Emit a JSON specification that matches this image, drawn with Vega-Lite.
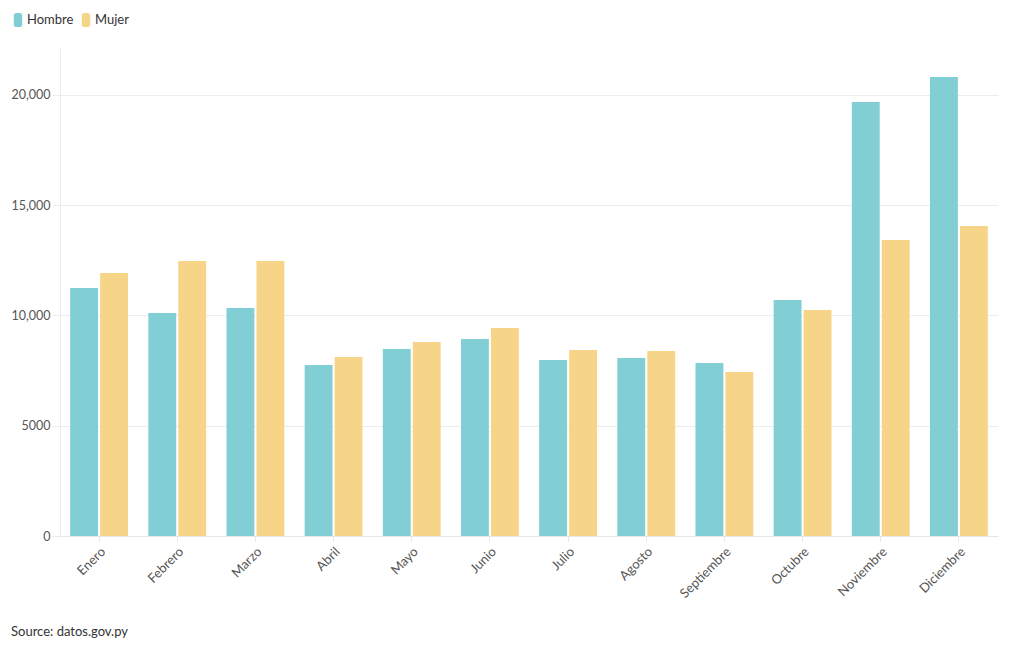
{
  "$schema": "https://vega.github.io/schema/vega-lite/v6.json",
  "width": 938,
  "height": 488,
  "autosize": {"type": "none"},
  "padding": {"left": 60, "top": 48, "right": 22, "bottom": 114},
  "background": "white",
  "config": {
    "font": "Lato",
    "view": {"stroke": null}
  },
  "title": {
    "text": "Source: datos.gov.py",
    "orient": "bottom",
    "anchor": "start",
    "frame": "group",
    "dx": -49,
    "offset": 26,
    "fontSize": 13,
    "fontWeight": "normal",
    "color": "#333"
  },
  "data": {
    "values": [
      {"mes": "Enero", "sexo": "Hombre", "valor": 11250},
      {"mes": "Enero", "sexo": "Mujer", "valor": 11930},
      {"mes": "Febrero", "sexo": "Hombre", "valor": 10110},
      {"mes": "Febrero", "sexo": "Mujer", "valor": 12470},
      {"mes": "Marzo", "sexo": "Hombre", "valor": 10340},
      {"mes": "Marzo", "sexo": "Mujer", "valor": 12470},
      {"mes": "Abril", "sexo": "Hombre", "valor": 7760},
      {"mes": "Abril", "sexo": "Mujer", "valor": 8120},
      {"mes": "Mayo", "sexo": "Hombre", "valor": 8480},
      {"mes": "Mayo", "sexo": "Mujer", "valor": 8800},
      {"mes": "Junio", "sexo": "Hombre", "valor": 8930},
      {"mes": "Junio", "sexo": "Mujer", "valor": 9430},
      {"mes": "Julio", "sexo": "Hombre", "valor": 7980},
      {"mes": "Julio", "sexo": "Mujer", "valor": 8440},
      {"mes": "Agosto", "sexo": "Hombre", "valor": 8070},
      {"mes": "Agosto", "sexo": "Mujer", "valor": 8390},
      {"mes": "Septiembre", "sexo": "Hombre", "valor": 7850},
      {"mes": "Septiembre", "sexo": "Mujer", "valor": 7440},
      {"mes": "Octubre", "sexo": "Hombre", "valor": 10700},
      {"mes": "Octubre", "sexo": "Mujer", "valor": 10250},
      {"mes": "Noviembre", "sexo": "Hombre", "valor": 19680},
      {"mes": "Noviembre", "sexo": "Mujer", "valor": 13420},
      {"mes": "Diciembre", "sexo": "Hombre", "valor": 20820},
      {"mes": "Diciembre", "sexo": "Mujer", "valor": 14060}
    ]
  },
  "mark": {"type": "bar"},
  "encoding": {
    "x": {
      "field": "mes",
      "type": "nominal",
      "sort": null,
      "scale": {"paddingInner": 0.26, "paddingOuter": 0.13},
      "axis": {
        "title": null,
        "labelAngle": -45,
        "labelFontSize": 13,
        "labelColor": "#555",
        "domainColor": "#e6e6e6",
        "tickColor": "#e6e6e6",
        "tickSize": 5,
        "labelPadding": 4
      }
    },
    "xOffset": {
      "field": "sexo",
      "type": "nominal",
      "scale": {"paddingInner": 0.07}
    },
    "y": {
      "field": "valor",
      "type": "quantitative",
      "scale": {"domain": [0, 22131], "nice": false},
      "axis": {
        "title": null,
        "values": [0, 5000, 10000, 15000, 20000],
        "labelExpr": "datum.value >= 10000 ? format(datum.value, ',') : format(datum.value, 'd')",
        "labelFontSize": 12.5,
        "labelColor": "#555",
        "gridColor": "#ececec",
        "tickColor": "#ececec",
        "tickSize": 8,
        "domainColor": "#ececec",
        "labelPadding": 2
      }
    },
    "color": {
      "field": "sexo",
      "type": "nominal",
      "scale": {"domain": ["Hombre", "Mujer"], "range": ["#81ced4", "#f6d588"]},
      "legend": {
        "title": null,
        "orient": "none",
        "legendX": -49,
        "legendY": -35,
        "direction": "horizontal",
        "labelFontSize": 13,
        "labelColor": "#333",
        "symbolType": "M-0.6,-0.6 Q-0.6,-1 -0.2,-1 L0.2,-1 Q0.6,-1 0.6,-0.6 L0.6,0.6 Q0.6,1 0.2,1 L-0.2,1 Q-0.6,1 -0.6,0.6 Z",
        "symbolSize": 196,
        "symbolOpacity": 1,
        "symbolStrokeWidth": 0,
        "labelOffset": 2,
        "columnPadding": 5
      }
    }
  }
}
